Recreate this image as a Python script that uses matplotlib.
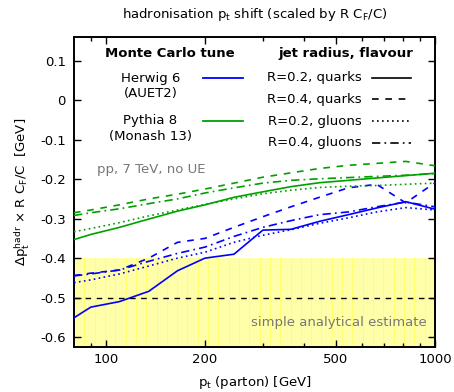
import numpy as np
import matplotlib.pyplot as plt
from matplotlib.lines import Line2D

# parton pt values [GeV]
pt = [80, 90, 110, 135, 165, 200, 245, 300, 365, 445, 545, 665, 815, 1000]

# Herwig 6 (AUET2)
hw_r02_q = [-0.551, -0.524, -0.510, -0.484, -0.432, -0.400, -0.390, -0.329, -0.327, -0.307, -0.290, -0.273, -0.257, -0.276]
hw_r04_q = [-0.444, -0.438, -0.430, -0.400, -0.360, -0.350, -0.322, -0.295, -0.270, -0.246, -0.222, -0.213, -0.260, -0.209]
hw_r02_g = [-0.462, -0.455, -0.440, -0.420, -0.400, -0.385, -0.360, -0.342, -0.328, -0.312, -0.298, -0.283, -0.272, -0.278]
hw_r04_g = [-0.445, -0.440, -0.430, -0.408, -0.388, -0.372, -0.345, -0.322, -0.305, -0.290, -0.283, -0.270, -0.258, -0.270]

# Pythia 8 (Monash 13)
py_r02_q = [-0.353, -0.340, -0.322, -0.301, -0.281, -0.265, -0.246, -0.232, -0.219, -0.209, -0.203, -0.197, -0.191, -0.185]
py_r04_q = [-0.285, -0.278, -0.265, -0.250, -0.238, -0.225, -0.210, -0.195, -0.184, -0.173, -0.165, -0.160, -0.155, -0.166]
py_r02_g = [-0.333, -0.325, -0.310, -0.293, -0.278, -0.264, -0.250, -0.237, -0.228, -0.221, -0.218, -0.216, -0.213, -0.210]
py_r04_g = [-0.292, -0.285, -0.275, -0.262, -0.250, -0.235, -0.222, -0.210, -0.203, -0.199, -0.196, -0.193, -0.190, -0.186]

estimate = -0.5
band_top = -0.4

blue = '#0000ff'
green = '#00a000'
styles = {'solid': '-', 'dash': (0, (4, 4)), 'dot': (0, (1, 2)), 'dashdot': (0, (5, 2.5, 1, 2.5))}

plt.rcParams['font.family'] = 'DejaVu Sans'
plt.rcParams['mathtext.fontset'] = 'dejavusans'
fs = 9.5

fig = plt.figure(figsize=(4.54, 3.92), dpi=100)
ax = fig.add_axes([0.163, 0.1148, 0.795, 0.7908])
ax.set_xscale('log')
ax.set_xlim(80, 1000)
ax.set_ylim(-0.625, 0.16)

# yellow band with faint vertical stripes
ax.axhspan(-1, band_top, color='#ffffaa', lw=0, zorder=0)
for xs in np.logspace(np.log10(80), 3, 36)[1:-1]:
    ax.plot([xs, xs], [-1, band_top], color='#ffff66', lw=0.6, zorder=0.5)
ax.axhline(estimate, color='black', lw=1.0, ls=(0, (4, 4)), zorder=1)

for vals, st in [(hw_r02_q, 'solid'), (hw_r04_q, 'dash'), (hw_r02_g, 'dot'), (hw_r04_g, 'dashdot')]:
    ax.plot(pt, vals, color=blue, lw=1.2, ls=styles[st], zorder=3)
for vals, st in [(py_r02_q, 'solid'), (py_r04_q, 'dash'), (py_r02_g, 'dot'), (py_r04_g, 'dashdot')]:
    ax.plot(pt, vals, color=green, lw=1.2, ls=styles[st], zorder=3)

ax.set_xticks([100, 200, 500, 1000])
ax.set_xticklabels(['100', '200', '500', '1000'])
ax.set_xticks([90, 300, 400, 600, 700, 800, 900], minor=True)
ax.xaxis.set_minor_formatter(plt.NullFormatter())
ax.set_yticks(np.round(np.arange(-0.6, 0.15, 0.1), 1))
ax.set_yticklabels(['-0.6', '-0.5', '-0.4', '-0.3', '-0.2', '-0.1', '0', '0.1'])
ax.tick_params(which='both', direction='in', top=True, right=True, labelsize=fs, width=1.0)
ax.tick_params(which='major', length=5)
ax.tick_params(axis='y', which='major', pad=6)
ax.tick_params(axis='x', which='major', pad=4)
ax.tick_params(which='minor', length=3)
for s in ax.spines.values():
    s.set_linewidth(1.4)

ax.set_title(r'hadronisation p$_\mathrm{t}$ shift (scaled by R C$_\mathrm{F}$/C)', fontsize=fs, pad=14)
ax.set_xlabel(r'p$_\mathrm{t}$ (parton) [GeV]', fontsize=fs, labelpad=6)
ax.set_ylabel(r'$\Delta$p$_\mathrm{t}^\mathrm{hadr}$ $\times$ R C$_\mathrm{F}$/C  [GeV]', fontsize=fs, labelpad=6)

# legend, drawn by hand like the gnuplot original
tr = ax.transAxes
ax.text(0.266, 0.948, 'Monte Carlo tune', transform=tr, ha='center', va='center', fontsize=fs, fontweight='bold')
ax.text(0.752, 0.948, 'jet radius, flavour', transform=tr, ha='center', va='center', fontsize=fs, fontweight='bold')

ax.text(0.212, 0.866, 'Herwig 6', transform=tr, ha='center', va='center', fontsize=fs)
ax.text(0.212, 0.817, '(AUET2)', transform=tr, ha='center', va='center', fontsize=fs)
ax.add_line(Line2D([0.358, 0.467], [0.868, 0.868], transform=tr, color=blue, lw=1.3))
ax.text(0.212, 0.730, 'Pythia 8', transform=tr, ha='center', va='center', fontsize=fs)
ax.text(0.212, 0.678, '(Monash 13)', transform=tr, ha='center', va='center', fontsize=fs)
ax.add_line(Line2D([0.358, 0.467], [0.730, 0.730], transform=tr, color=green, lw=1.3))

rows = [('R=0.2, quarks', 'solid'), ('R=0.4, quarks', 'dash'), ('R=0.2, gluons', 'dot'), ('R=0.4, gluons', 'dashdot')]
for i, (lab, st) in enumerate(rows):
    yy = 0.868 - i * 0.0695
    ax.text(0.797, yy, lab, transform=tr, ha='right', va='center', fontsize=fs)
    ax.add_line(Line2D([0.825, 0.935], [yy, yy], transform=tr, color='black', lw=1.2, ls=styles[st]))

ax.text(0.063, 0.573, 'pp, 7 TeV, no UE', transform=tr, ha='left', va='center', fontsize=fs, color='#777777')
ax.text(0.977, 0.078, 'simple analytical estimate', transform=tr, ha='right', va='center', fontsize=fs, color='#777777')

fig.savefig('out.png', dpi=100)
